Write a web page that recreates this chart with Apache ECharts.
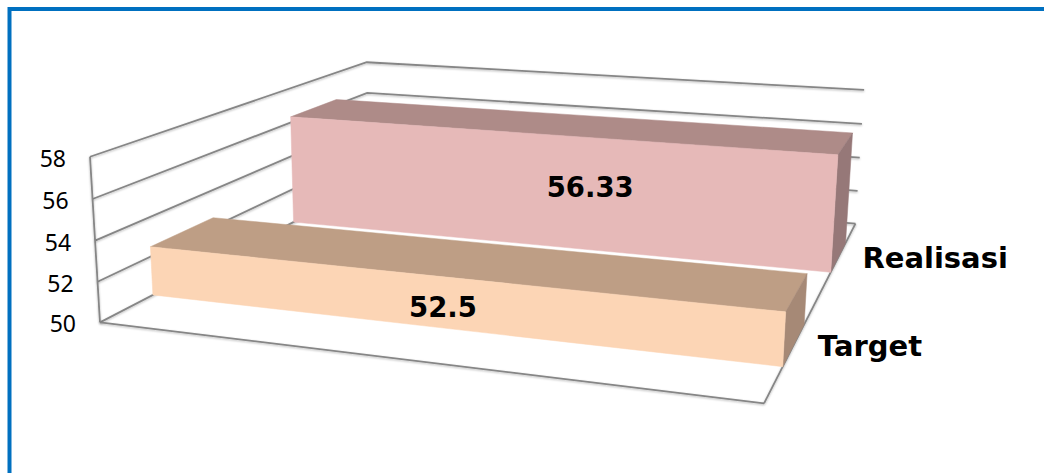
<!DOCTYPE html>
<html>
<head>
<meta charset="utf-8">
<script src="https://cdn.jsdelivr.net/npm/echarts@6/dist/echarts.min.js"></script>
<style>
  html, body { margin: 0; padding: 0; background: #ffffff; }
  #chart { width: 1044px; height: 473px; }
</style>
</head>
<body>
<div id="chart"></div>
<script>
// ---- data ----
const categories = ['Target', 'Realisasi'];
const values = [52.5, 56.33];
const valueTicks = [50, 52, 54, 56, 58];

// ---- look ----
const frontColors = ['#FCD5B5', '#E6B9B8'];
const topColors = ['#BE9E85', '#AE8B88'];
const sideColors = ['#A68976', '#967878'];
const gridLineColor = '#868686';
const GAP_DEPTH = 1.5;              // gap between series rows, as a share of bar depth
const labelShift = [[-25, 2], [27, -4]];

// Page anchors of the 3D box: [X, Y, Z, px, py]
// X runs left->right along the floor, Y bottom->top of the value range, Z front->back.
const boxAnchors = [
  [0, 0, 0, 100, 322], [0, 1, 0, 90, 157], [0, 0.5, 0, 95, 241],
  [0, 1, 1, 367, 62], [0, 0.75, 1, 367, 93],
  [1, 1, 1, 864, 90], [1, 0.75, 1, 862, 124], [1, 0.5, 1, 860, 157],
  [1, 0.25, 1, 857, 191], [1, 0, 1, 855, 224],
  [1, 0, 0, 763, 403], [1, 0, 0.5, 820, 297]
];

// Fit a perspective camera (3x4 projective matrix) to the anchors by least squares.
function fitCamera(pts) {
  const N = 11;
  const A = Array.from({ length: N }, () => new Array(N).fill(0));
  const b = new Array(N).fill(0);
  const add = (row, rhs) => {
    for (let i = 0; i < N; i++) {
      b[i] += row[i] * rhs;
      for (let j = 0; j < N; j++) A[i][j] += row[i] * row[j];
    }
  };
  pts.forEach(([X, Y, Z, u, v]) => {
    const U = (u - 500) / 500, V = (v - 250) / 500;
    add([X, Y, Z, 1, 0, 0, 0, 0, -U * X, -U * Y, -U * Z], U);
    add([0, 0, 0, 0, X, Y, Z, 1, -V * X, -V * Y, -V * Z], V);
  });
  for (let c = 0; c < N; c++) {
    let p = c;
    for (let r = c + 1; r < N; r++) if (Math.abs(A[r][c]) > Math.abs(A[p][c])) p = r;
    [A[c], A[p]] = [A[p], A[c]];
    [b[c], b[p]] = [b[p], b[c]];
    for (let r = c + 1; r < N; r++) {
      const f = A[r][c] / A[c][c];
      for (let k = c; k < N; k++) A[r][k] -= f * A[c][k];
      b[r] -= f * b[c];
    }
  }
  const m = new Array(N).fill(0);
  for (let r = N - 1; r >= 0; r--) {
    let s = b[r];
    for (let k = r + 1; k < N; k++) s -= A[r][k] * m[k];
    m[r] = s / A[r][r];
  }
  return (X, Y, Z) => {
    const w = m[8] * X + m[9] * Y + m[10] * Z + 1;
    return [
      (m[0] * X + m[1] * Y + m[2] * Z + m[3]) / w * 500 + 500,
      (m[4] * X + m[5] * Y + m[6] * Z + m[7]) / w * 500 + 250
    ];
  };
}
const P = fitCamera(boxAnchors);

// value -> height share of the box, through the y axis scale
function yShare(params, api, v) {
  const cs = params.coordSys;
  return (cs.y + cs.height - api.coord([0, v])[1]) / cs.height;
}

const lineStyle = {
  stroke: gridLineColor, lineWidth: 1.8, fill: null,
  shadowBlur: 2, shadowColor: 'rgba(0,0,0,0.28)', shadowOffsetY: 1
};

function renderWalls(params, api) {
  const v = api.value(1);
  const y = yShare(params, api, v);
  const a = P(0, y, 0), b = P(0, y, 1), c = P(1, y, 1);
  return {
    type: 'group',
    children: [
      { type: 'polyline', shape: { points: [a, b, c] }, style: lineStyle },
      { type: 'line', shape: { x1: a[0] - 7, y1: a[1], x2: a[0], y2: a[1] }, style: lineStyle },
      {
        type: 'text', x: a[0] - 24, y: a[1] + 1,
        style: {
          text: String(v), align: 'right', verticalAlign: 'middle',
          font: '23px "Noto Sans", sans-serif', fill: '#000000'
        }
      }
    ]
  };
}

function renderFrame(params, api) {
  const cs = params.coordSys;
  const kids = [];
  const seg = (p, q) => kids.push({ type: 'line', shape: { x1: p[0], y1: p[1], x2: q[0], y2: q[1] }, style: lineStyle });
  const y0 = yShare(params, api, valueTicks[0]);
  const y1 = yShare(params, api, valueTicks[valueTicks.length - 1]);
  seg(P(0, y0, 0), P(0, y1, 0));          // value axis
  seg(P(0, y0, 0), P(1, y0, 0));          // floor front edge
  seg(P(1, y0, 0), P(1, y0, 1));          // series (depth) axis
  [0, 1].forEach(x => { const p = P(x, y0, 0); seg(p, [p[0], p[1] + 8]); });
  const band = api.size([1, 0])[0] / cs.width;
  for (let k = 0; k <= categories.length; k++) {
    const p = P(1, y0, k * band);
    seg(p, [p[0] + 10, p[1]]);
  }
  return { type: 'group', children: kids };
}

function renderBars(params, api) {
  const cs = params.coordSys;
  const i = api.value(0), v = api.value(1);
  const pt = api.coord([i, v]);
  const band = api.size([1, 0])[0] / cs.width;
  const zc = (pt[0] - cs.x) / cs.width;
  const zd = band / (1 + GAP_DEPTH);
  const z0 = zc - zd / 2, z1 = zc + zd / 2;
  const yb = yShare(params, api, valueTicks[0]);
  const yt = (cs.y + cs.height - pt[1]) / cs.height;
  const order = (categories.length - i) * 10;
  const face = (pts, color, dz) => ({
    type: 'polygon', z2: order + dz, shape: { points: pts },
    style: { fill: color, stroke: color, lineWidth: 0.5 }
  });
  const front = [P(0, yb, z0), P(1, yb, z0), P(1, yt, z0), P(0, yt, z0)];
  const top = [P(0, yt, z0), P(1, yt, z0), P(1, yt, z1), P(0, yt, z1)];
  const side = [P(1, yb, z0), P(1, yb, z1), P(1, yt, z1), P(1, yt, z0)];
  const cx = front.reduce((s, p) => s + p[0], 0) / 4 + labelShift[i][0];
  const cy = front.reduce((s, p) => s + p[1], 0) / 4 + labelShift[i][1];
  const axisPt = P(1, yb, zc);
  return {
    type: 'group',
    children: [
      face(top, topColors[i], 1),
      face(side, sideColors[i], 2),
      face(front, frontColors[i], 3),
      {
        type: 'text', z2: order + 5, x: cx, y: cy,
        style: {
          text: String(v), align: 'center', verticalAlign: 'middle',
          font: 'bold 27.5px "DejaVu Sans", sans-serif', fill: '#000000'
        }
      },
      {
        type: 'text', z2: order + 5, x: axisPt[0] + 24, y: axisPt[1] + 1,
        style: {
          text: categories[i], align: 'left', verticalAlign: 'middle',
          font: 'bold 29px "DejaVu Sans", sans-serif', fill: '#000000'
        }
      }
    ]
  };
}

const chart = echarts.init(document.getElementById('chart'), null, { renderer: 'svg' });
chart.setOption({
  animation: false,
  backgroundColor: '#ffffff',
  grid: { left: 120, right: 120, top: 60, bottom: 60 },
  xAxis: { type: 'category', data: categories, show: false },
  yAxis: { type: 'value', min: 50, max: 58, interval: 2, show: false },
  graphic: [{
    type: 'rect', silent: true, z: 10,
    shape: { x: 9.5, y: 9, width: 1100, height: 520 },
    style: { fill: null, stroke: '#0070C0', lineWidth: 4 }
  }],
  series: [
    { type: 'custom', name: 'walls', z: 1, renderItem: renderWalls, data: valueTicks.map(v => [0, v]) },
    { type: 'custom', name: 'frame', z: 1, renderItem: renderFrame, data: [[0, valueTicks[0]]] },
    { type: 'custom', name: 'bars', z: 2, renderItem: renderBars, data: values.map((v, i) => [i, v]) }
  ]
});
</script>
</body>
</html>
